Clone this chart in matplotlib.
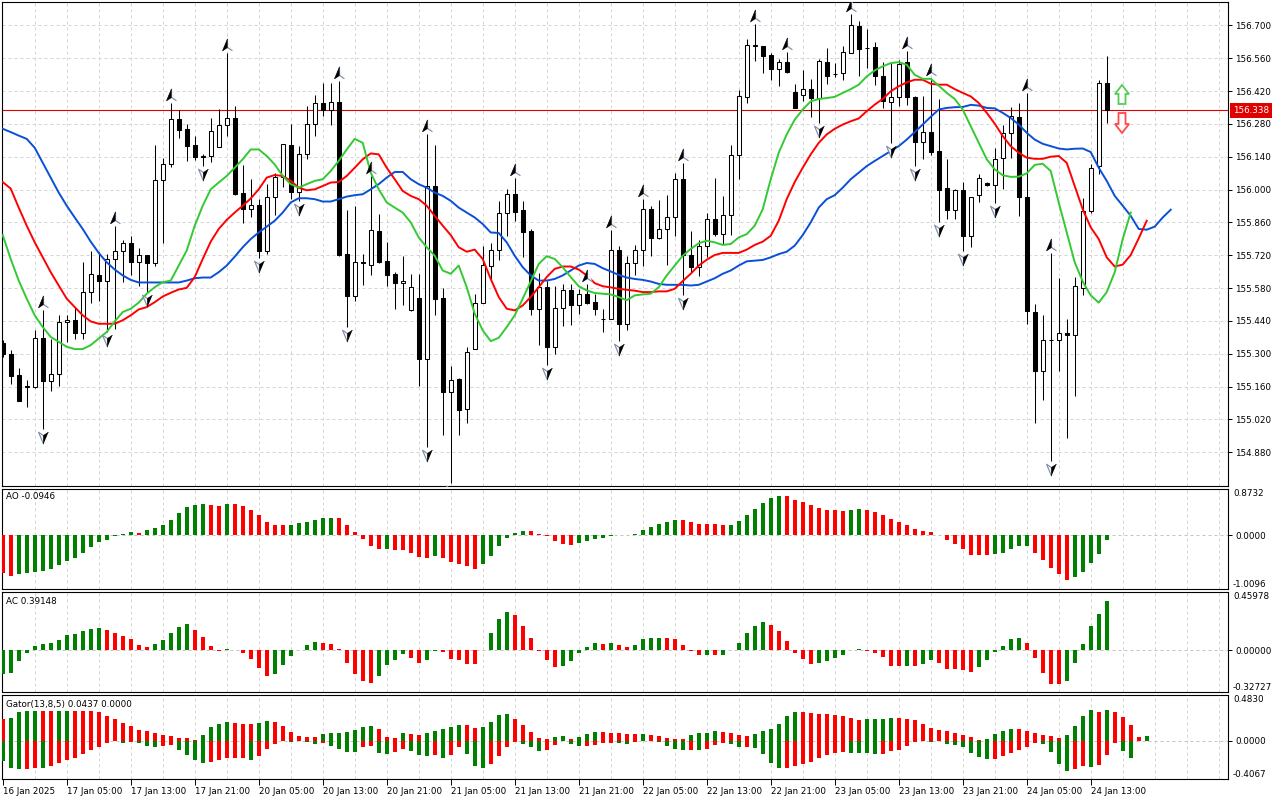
import numpy as np
import matplotlib
matplotlib.use("Agg")
import matplotlib.pyplot as plt
from matplotlib.transforms import offset_copy, blended_transform_factory, IdentityTransform
from matplotlib.patches import Polygon

# ---- H1 candles, 16 Jan 2025 21:00 .. 24 Jan 15:00 ----
opens = [155.348, 155.297, 155.208, 155.163, 155.160, 155.368, 155.184, 155.215, 155.435, 155.445,
         155.389, 155.563, 155.636, 155.612, 155.704, 155.737, 155.771, 155.693, 155.720, 155.686,
         156.042, 156.107, 156.301, 156.256, 156.188, 156.143, 156.144, 156.182, 156.276, 156.305,
         155.984, 155.919, 155.936, 155.740, 155.970, 156.054, 156.191, 155.990, 156.153, 156.280,
         156.369, 156.338, 156.375, 155.724, 155.546, 155.690, 155.680, 155.823, 155.696, 155.641,
         155.602, 155.485, 155.537, 155.277, 156.015, 155.537, 155.136, 155.191, 155.065, 155.320,
         155.516, 155.676, 155.744, 155.899, 155.979, 155.914, 155.823, 155.489, 155.585, 155.328,
         155.495, 155.573, 155.506, 155.554, 155.520, 155.450, 155.447, 155.742, 155.426, 155.686,
         155.742, 155.919, 155.792, 155.832, 155.881, 156.047, 155.721, 155.672, 155.761, 155.874,
         155.810, 155.891, 156.148, 156.393, 156.612, 156.612, 156.574, 156.513, 156.543, 156.414,
         156.403, 156.428, 156.389, 156.544, 156.491, 156.496, 156.581, 156.697, 156.605, 156.607,
         156.485, 156.373, 156.394, 156.544, 156.394, 156.202, 156.246, 156.163, 156.006, 155.914,
         155.996, 155.803, 155.977, 156.030, 156.021, 156.134, 156.242, 156.310, 155.970, 155.478,
         155.226, 155.358, 155.358, 155.390, 155.379, 155.580, 155.908, 156.100, 156.454]
highs = [155.358, 155.318, 155.238, 155.188, 155.402, 155.485, 155.365, 155.467, 155.464, 155.499,
         155.690, 155.737, 155.733, 155.725, 155.846, 155.786, 155.800, 155.750, 155.720, 156.192,
         156.134, 156.369, 156.338, 156.280, 156.228, 156.153, 156.305, 156.344, 156.581, 156.358,
         156.106, 156.047, 155.959, 156.025, 156.072, 156.195, 156.281, 156.185, 156.355, 156.404,
         156.454, 156.454, 156.464, 155.914, 155.928, 155.725, 156.058, 155.895, 155.778, 155.648,
         155.716, 155.642, 155.639, 156.237, 156.189, 155.580, 155.247, 155.195, 155.330, 155.556,
         155.758, 155.772, 155.952, 156.001, 156.051, 155.952, 155.834, 155.645, 155.612, 155.591,
         155.597, 155.597, 155.577, 155.598, 155.556, 155.492, 155.829, 155.761, 155.716, 155.764,
         155.959, 155.931, 155.955, 155.976, 156.069, 156.114, 155.824, 155.786, 155.898, 156.048,
         155.973, 156.189, 156.426, 156.641, 156.706, 156.612, 156.581, 156.556, 156.588, 156.451,
         156.510, 156.471, 156.556, 156.602, 156.538, 156.612, 156.748, 156.718, 156.683, 156.628,
         156.542, 156.543, 156.553, 156.592, 156.397, 156.400, 156.475, 156.386, 156.129, 156.001,
         156.034, 155.970, 156.065, 156.033, 156.175, 156.277, 156.351, 156.369, 156.411, 155.513,
         155.467, 155.730, 155.624, 155.450, 155.626, 155.966, 156.107, 156.468, 156.570]
lows = [155.287, 155.171, 155.099, 155.073, 155.153, 154.979, 155.141, 155.163, 155.351, 155.365,
        155.361, 155.518, 155.527, 155.393, 155.407, 155.608, 155.634, 155.588, 155.563, 155.676,
        155.772, 156.097, 156.221, 156.121, 156.126, 156.100, 156.117, 156.182, 156.230, 155.976,
        155.857, 155.885, 155.707, 155.725, 155.891, 156.011, 155.959, 155.952, 156.129, 156.228,
        156.312, 156.277, 155.718, 155.414, 155.527, 155.594, 155.634, 155.686, 155.591, 155.492,
        155.509, 155.482, 155.163, 154.901, 155.464, 154.955, 154.750, 154.955, 155.004, 155.320,
        155.516, 155.612, 155.701, 155.803, 155.867, 155.711, 155.464, 155.337, 155.252, 155.301,
        155.418, 155.424, 155.471, 155.513, 155.467, 155.393, 155.447, 155.354, 155.403, 155.634,
        155.676, 155.716, 155.789, 155.680, 155.800, 155.549, 155.648, 155.631, 155.711, 155.800,
        155.768, 155.806, 156.044, 156.369, 156.549, 156.496, 156.468, 156.440, 156.496, 156.348,
        156.376, 156.310, 156.284, 156.451, 156.479, 156.468, 156.581, 156.482, 156.517, 156.445,
        156.348, 156.199, 156.358, 156.362, 156.100, 156.131, 156.146, 155.863, 155.874, 155.874,
        155.740, 155.754, 155.949, 156.015, 155.942, 156.001, 156.133, 155.888, 155.428, 155.007,
        155.103, 154.841, 155.226, 154.943, 155.122, 155.549, 155.902, 156.065, 156.284]
closes = [155.297, 155.205, 155.099, 155.160, 155.368, 155.184, 155.215, 155.435, 155.445, 155.389,
          155.563, 155.639, 155.612, 155.704, 155.737, 155.771, 155.693, 155.720, 155.686, 156.042,
          156.107, 156.301, 156.253, 156.185, 156.138, 156.140, 156.250, 156.276, 156.305, 155.980,
          155.919, 155.936, 155.740, 155.970, 156.054, 156.195, 155.990, 156.153, 156.280, 156.369,
          156.338, 156.375, 155.721, 155.546, 155.690, 155.687, 155.827, 155.690, 155.634, 155.602,
          155.612, 155.585, 155.277, 156.015, 155.535, 155.136, 155.188, 155.061, 155.308, 155.518,
          155.679, 155.744, 155.899, 155.979, 155.905, 155.820, 155.489, 155.583, 155.328, 155.495,
          155.574, 155.506, 155.554, 155.518, 155.489, 155.447, 155.742, 155.426, 155.686, 155.742,
          155.919, 155.792, 155.832, 155.881, 156.047, 155.721, 155.672, 155.761, 155.874, 155.810,
          155.891, 156.148, 156.397, 156.615, 156.615, 156.570, 156.513, 156.543, 156.503, 156.348,
          156.428, 156.389, 156.549, 156.486, 156.493, 156.585, 156.700, 156.601, 156.605, 156.482,
          156.376, 156.394, 156.534, 156.394, 156.202, 156.246, 156.160, 155.998, 155.914, 155.996,
          155.803, 155.970, 156.051, 156.021, 156.131, 156.242, 156.312, 155.970, 155.481, 155.226,
          155.358, 155.358, 155.390, 155.379, 155.588, 155.908, 156.093, 156.454, 156.338]

# Alligator lines as displayed (already shifted forward 8/5/3 bars)
jaw = [156.259, 156.245, 156.230, 156.216, 156.178, 156.114, 156.051, 155.987, 155.931, 155.881,
       155.832, 155.778, 155.730, 155.690, 155.659, 155.634, 155.615, 155.604, 155.604, 155.604,
       155.604, 155.604, 155.604, 155.612, 155.622, 155.625, 155.625, 155.648, 155.676, 155.714,
       155.754, 155.789, 155.817, 155.842, 155.867, 155.902, 155.945, 155.963, 155.963, 155.959,
       155.949, 155.949, 155.959, 155.970, 155.976, 155.980, 156.001, 156.023, 156.051, 156.075,
       156.075, 156.044, 156.023, 156.008, 155.987, 155.973, 155.952, 155.923, 155.902, 155.881,
       155.853, 155.817, 155.815, 155.775, 155.718, 155.669, 155.634, 155.612, 155.612, 155.619,
       155.634, 155.655, 155.676, 155.687, 155.683, 155.665, 155.651, 155.636, 155.625, 155.619,
       155.615, 155.608, 155.598, 155.594, 155.594, 155.594, 155.591, 155.594, 155.608, 155.622,
       155.641, 155.655, 155.676, 155.694, 155.697, 155.700, 155.711, 155.725, 155.735, 155.761,
       155.806, 155.860, 155.923, 155.959, 155.976, 156.008, 156.044, 156.072, 156.100, 156.122,
       156.143, 156.164, 156.185, 156.213, 156.245, 156.277, 156.310, 156.341, 156.348, 156.351,
       156.352, 156.361, 156.358, 156.348, 156.346, 156.327, 156.305, 156.277, 156.242, 156.213,
       156.195, 156.185, 156.175, 156.171, 156.174, 156.175, 156.160, 156.093, 156.037, 155.973,
       155.931, 155.888, 155.832, 155.829, 155.842, 155.881, 155.914]
teeth = [156.032, 156.004, 155.923, 155.846, 155.775, 155.711, 155.648, 155.591, 155.535, 155.499,
         155.464, 155.438, 155.428, 155.428, 155.428, 155.443, 155.464, 155.489, 155.499, 155.520,
         155.544, 155.560, 155.574, 155.581, 155.627, 155.704, 155.778, 155.832, 155.871, 155.902,
         155.931, 155.962, 156.001, 156.051, 156.062, 156.058, 156.037, 156.008, 155.997, 156.001,
         156.015, 156.030, 156.032, 156.058, 156.093, 156.129, 156.154, 156.150, 156.093, 156.044,
         155.994, 155.973, 155.959, 155.931, 155.888, 155.846, 155.806, 155.754, 155.735, 155.744,
         155.704, 155.619, 155.542, 155.492, 155.485, 155.506, 155.542, 155.584, 155.627, 155.662,
         155.672, 155.672, 155.659, 155.634, 155.601, 155.588, 155.583, 155.577, 155.573, 155.569,
         155.563, 155.563, 155.566, 155.566, 155.577, 155.610, 155.641, 155.676, 155.701, 155.721,
         155.730, 155.730, 155.730, 155.744, 155.764, 155.778, 155.803, 155.867, 155.959, 156.032,
         156.093, 156.150, 156.199, 156.235, 156.259, 156.277, 156.291, 156.303, 156.334, 156.362,
         156.386, 156.419, 156.440, 156.457, 156.468, 156.468, 156.451, 156.447, 156.447, 156.428,
         156.412, 156.397, 156.369, 156.327, 156.281, 156.228, 156.185, 156.157, 156.136, 156.131,
         156.131, 156.140, 156.143, 156.114, 156.015, 155.916, 155.839, 155.789, 155.711, 155.672,
         155.680, 155.721, 155.792, 155.867]
lips = [155.806, 155.704, 155.612, 155.535, 155.464, 155.414, 155.372, 155.351, 155.330, 155.320,
        155.320, 155.337, 155.365, 155.393, 155.438, 155.478, 155.492, 155.518, 155.556, 155.584,
        155.605, 155.612, 155.676, 155.740, 155.846, 155.931, 156.001, 156.030, 156.058, 156.093,
        156.129, 156.171, 156.171, 156.143, 156.107, 156.058, 156.023, 156.008, 156.023, 156.037,
        156.044, 156.079, 156.122, 156.171, 156.216, 156.199, 156.072, 156.001, 155.945, 155.923,
        155.902, 155.860, 155.796, 155.754, 155.718, 155.655, 155.641, 155.676, 155.584, 155.471,
        155.400, 155.354, 155.368, 155.414, 155.464, 155.535, 155.608, 155.683, 155.716, 155.704,
        155.669, 155.627, 155.588, 155.570, 155.559, 155.556, 155.553, 155.542, 155.528, 155.549,
        155.553, 155.556, 155.584, 155.634, 155.676, 155.718, 155.747, 155.771, 155.782, 155.775,
        155.764, 155.768, 155.796, 155.810, 155.846, 155.916, 156.044, 156.157, 156.235, 156.298,
        156.341, 156.376, 156.386, 156.390, 156.395, 156.412, 156.428, 156.447, 156.482, 156.508,
        156.525, 156.539, 156.543, 156.532, 156.489, 156.472, 156.472, 156.443, 156.412, 156.386,
        156.341, 156.270, 156.199, 156.129, 156.086, 156.061, 156.054, 156.055, 156.069, 156.105,
        156.110, 156.079, 155.945, 155.817, 155.690, 155.608, 155.549, 155.518, 155.563, 155.648,
        155.789, 155.902]

fractal_up = [5, 14, 21, 28, 42, 46, 53, 64, 73, 76, 80, 85, 94, 98, 106, 113, 116, 128, 131]
fractal_down = [5, 13, 18, 25, 32, 37, 43, 53, 56, 68, 77, 85, 102, 111, 114, 117, 120, 124, 131]

ao = [-0.704, -0.766, -0.735, -0.704, -0.692, -0.667, -0.642, -0.561, -0.480, -0.417,
      -0.324, -0.224, -0.131, -0.081, -0.019, 0.019, 0.056, 0.050, 0.093, 0.143,
      0.199, 0.293, 0.424, 0.530, 0.573, 0.592, 0.567, 0.561, 0.589, 0.586,
      0.555, 0.480, 0.386, 0.255, 0.193, 0.187, 0.199, 0.224, 0.255, 0.293,
      0.318, 0.336, 0.330, 0.199, 0.062, -0.069, -0.193, -0.255, -0.249, -0.274,
      -0.280, -0.324, -0.405, -0.430, -0.380, -0.417, -0.492, -0.530, -0.579, -0.636,
      -0.542, -0.393, -0.206, -0.056, 0.044, 0.081, 0.075, 0.019, -0.019, -0.106,
      -0.168, -0.174, -0.143, -0.106, -0.075, -0.050, -0.019, 0.006, 0.012, 0.031,
      0.106, 0.150, 0.206, 0.255, 0.293, 0.287, 0.249, 0.218, 0.215, 0.206,
      0.187, 0.199, 0.280, 0.386, 0.498, 0.611, 0.704, 0.741, 0.735, 0.665,
      0.623, 0.573, 0.517, 0.480, 0.477, 0.467, 0.480, 0.498, 0.486, 0.436,
      0.393, 0.312, 0.249, 0.193, 0.125, 0.081, 0.062, 0.003, -0.093, -0.168,
      -0.249, -0.361, -0.374, -0.377, -0.355, -0.324, -0.249, -0.206, -0.202, -0.324,
      -0.467, -0.623, -0.729, -0.841, -0.791, -0.685, -0.511, -0.343, -0.0946]

ac = [-0.189, -0.179, -0.087, -0.021, 0.037, 0.053, 0.060, 0.084, 0.123, 0.129,
      0.155, 0.171, 0.179, 0.158, 0.139, 0.116, 0.087, 0.045, 0.029, 0.053,
      0.084, 0.139, 0.187, 0.210, 0.163, 0.108, 0.037, -0.005, 0.013, 0.005,
      -0.021, -0.071, -0.142, -0.200, -0.184, -0.113, -0.047, 0.005, 0.042, 0.063,
      0.060, 0.053, 0.013, -0.097, -0.184, -0.244, -0.255, -0.205, -0.113, -0.074,
      -0.032, -0.058, -0.097, -0.079, -0.003, -0.013, -0.066, -0.079, -0.105, -0.108,
      0.005, 0.139, 0.250, 0.305, 0.281, 0.192, 0.100, -0.005, -0.079, -0.131,
      -0.123, -0.087, -0.021, 0.029, 0.060, 0.053, 0.060, 0.045, 0.026, 0.045,
      0.087, 0.095, 0.100, 0.099, 0.087, 0.045, -0.005, -0.039, -0.034, -0.039,
      -0.037, 0.000, 0.060, 0.139, 0.189, 0.221, 0.202, 0.150, 0.071, -0.021,
      -0.071, -0.105, -0.100, -0.087, -0.058, -0.039, 0.000, 0.013, -0.005, -0.021,
      -0.053, -0.121, -0.126, -0.121, -0.123, -0.110, -0.079, -0.100, -0.145, -0.150,
      -0.158, -0.173, -0.131, -0.079, -0.013, 0.034, 0.092, 0.095, 0.058, -0.063,
      -0.179, -0.263, -0.264, -0.244, -0.097, 0.053, 0.194, 0.289, 0.39148]

gator_up = [0.227, 0.241, 0.307, 0.370, 0.403, 0.398, 0.392, 0.396, 0.399, 0.382,
            0.368, 0.340, 0.302, 0.262, 0.231, 0.191, 0.151, 0.115, 0.105, 0.084,
            0.060, 0.044, 0.030, 0.028, 0.011, 0.060, 0.140, 0.175, 0.195, 0.188,
            0.177, 0.173, 0.184, 0.209, 0.195, 0.156, 0.092, 0.045, 0.034, 0.033,
            0.066, 0.081, 0.085, 0.095, 0.117, 0.149, 0.153, 0.127, 0.042, 0.031,
            0.081, 0.071, 0.064, 0.077, 0.099, 0.127, 0.146, 0.169, 0.167, 0.137,
            0.149, 0.198, 0.273, 0.283, 0.233, 0.163, 0.092, 0.028, 0.015, 0.036,
            0.046, 0.021, 0.036, 0.068, 0.089, 0.087, 0.084, 0.078, 0.070, 0.066,
            0.075, 0.057, 0.046, 0.032, 0.021, 0.019, 0.057, 0.078, 0.084, 0.100,
            0.089, 0.078, 0.057, 0.046, 0.071, 0.100, 0.120, 0.180, 0.260, 0.305,
            0.300, 0.295, 0.286, 0.283, 0.270, 0.259, 0.236, 0.222, 0.224, 0.227,
            0.229, 0.241, 0.239, 0.234, 0.214, 0.181, 0.135, 0.108, 0.099, 0.077,
            0.060, 0.036, 0.011, 0.021, 0.065, 0.099, 0.120, 0.118, 0.106, 0.082,
            0.064, 0.045, 0.032, 0.057, 0.159, 0.259, 0.321, 0.304, 0.326, 0.301,
            0.251, 0.167, 0.040, 0.0437]
gator_down = [0.215, 0.290, 0.300, 0.298, 0.290, 0.292, 0.268, 0.236, 0.204, 0.182,
              0.147, 0.104, 0.067, 0.030, 0.008, 0.030, 0.018, 0.027, 0.054, 0.066,
              0.061, 0.051, 0.095, 0.150, 0.209, 0.238, 0.227, 0.204, 0.186, 0.182,
              0.180, 0.209, 0.167, 0.085, 0.035, 0.004, 0.014, 0.002, 0.020, 0.036,
              0.027, 0.053, 0.088, 0.117, 0.122, 0.064, 0.062, 0.135, 0.140, 0.118,
              0.089, 0.113, 0.152, 0.165, 0.156, 0.182, 0.157, 0.073, 0.142, 0.265,
              0.293, 0.252, 0.162, 0.068, 0.014, 0.033, 0.072, 0.105, 0.095, 0.044,
              0.004, 0.035, 0.058, 0.053, 0.043, 0.028, 0.022, 0.025, 0.040, 0.012,
              0.006, 0.007, 0.016, 0.062, 0.088, 0.098, 0.097, 0.099, 0.085, 0.050,
              0.030, 0.031, 0.067, 0.066, 0.080, 0.140, 0.236, 0.292, 0.285, 0.268,
              0.243, 0.223, 0.186, 0.157, 0.134, 0.125, 0.129, 0.133, 0.135, 0.139,
              0.137, 0.114, 0.096, 0.060, 0.014, 0.009, 0.014, 0.004, 0.035, 0.042,
              0.071, 0.127, 0.170, 0.198, 0.195, 0.167, 0.131, 0.102, 0.067, 0.026,
              0.040, 0.120, 0.250, 0.320, 0.300, 0.270, 0.280, 0.260, 0.148, 0.024,
              0.109, 0.181]

time_labels = ["16 Jan 2025", "17 Jan 05:00", "17 Jan 13:00", "17 Jan 21:00", "20 Jan 05:00",
               "20 Jan 13:00", "20 Jan 21:00", "21 Jan 05:00", "21 Jan 13:00", "21 Jan 21:00",
               "22 Jan 05:00", "22 Jan 13:00", "22 Jan 21:00", "23 Jan 05:00", "23 Jan 13:00",
               "23 Jan 21:00", "24 Jan 05:00", "24 Jan 13:00"]
price_ticks = [156.700, 156.560, 156.420, 156.280, 156.140, 156.000, 155.860,
               155.720, 155.580, 155.440, 155.300, 155.160, 155.020, 154.880]
bid = 156.338

GREEN = "#008000"
RED = "#ff0000"
GRID = "#d4d4d4"
FS = 6.3

plt.rcParams["font.family"] = ["DejaVu Sans"]
plt.rcParams["font.size"] = FS

W, H = 1280, 800
fig = plt.figure(figsize=(12.8, 8), dpi=100, facecolor="white")


def px_rect(x0, y0, x1, y1):
    return [x0 / W, 1 - y1 / H, (x1 - x0) / W, (y1 - y0) / H]


ax = fig.add_axes(px_rect(2, 2, 1228, 486))
ax_ao = fig.add_axes(px_rect(2, 489, 1228, 589))
ax_ac = fig.add_axes(px_rect(2, 592, 1228, 692))
ax_gt = fig.add_axes(px_rect(2, 695, 1228, 779))
panels = [ax, ax_ao, ax_ac, ax_gt]

for a in panels:
    a.set_xlim(-0.09, 153.16)
    a.set_facecolor("white")
    for s in a.spines.values():
        s.set_linewidth(0.8)
        s.set_color("black")
    a.tick_params(axis="x", bottom=False, labelbottom=False)
    for g in range(4, 153, 4):
        a.axvline(g, color=GRID, lw=0.72, ls=(0, (3, 3)), zorder=0)


def updown(vals, first):
    cols = [first]
    for prev, cur in zip(vals[:-1], vals[1:]):
        if cur > prev:
            cols.append(GREEN)
        elif cur < prev:
            cols.append(RED)
        else:
            cols.append(cols[-1])
    return cols


# ---- main price panel ----
o = np.array(opens)
h = np.array(highs)
l = np.array(lows)
c = np.array(closes)
x = np.arange(len(o))

ax.set_ylim(154.7365, 156.7994)
for p in price_ticks:
    ax.axhline(p, color=GRID, lw=0.72, ls=(0, (3, 3)), zorder=0)
ax.axhline(bid, color="#e00000", lw=0.8, zorder=1.5)

bull = c >= o
ax.vlines(x, l, h, color="black", lw=0.75, zorder=3)
ax.bar(x, np.maximum(np.abs(c - o), 0.0004), bottom=np.minimum(o, c), width=0.55,
       color=np.where(bull, "white", "black"), edgecolor="black", linewidth=0.75, zorder=4)

ax.plot(np.arange(len(jaw)), jaw, color="#0a4fd8", lw=1.4, zorder=5)
ax.plot(np.arange(len(teeth)), teeth, color="#ff0000", lw=1.4, zorder=5)
ax.plot(np.arange(len(lips)), lips, color="#33c933", lw=1.4, zorder=5)

# fractal arrows: half dark, half light
UP_L = [(0, 1), (-0.75, -0.8), (0, -0.3)]
UP_R = [(0, 1), (0, -0.3), (0.75, -0.8)]
DN_L = [(0, -1), (-0.75, 0.8), (0, 0.3)]
DN_R = [(0, -1), (0, 0.3), (0.75, 0.8)]
tr_up = offset_copy(ax.transData, fig=fig, x=0, y=8, units="dots")
tr_dn = offset_copy(ax.transData, fig=fig, x=0, y=-8, units="dots")
fu = np.array(fractal_up)
fd = np.array(fractal_down)
ax.scatter(fu, h[fu], marker=UP_R, s=90, facecolors="#f4f6fa", edgecolors="#7c8ca4",
           linewidths=0.8, transform=tr_up, zorder=7)
ax.scatter(fu, h[fu], marker=UP_L, s=90, facecolors="black", edgecolors="black",
           linewidths=0.5, transform=tr_up, zorder=7)
ax.scatter(fd, l[fd], marker=DN_L, s=90, facecolors="#f4f6fa", edgecolors="#7c8ca4",
           linewidths=0.8, transform=tr_dn, zorder=7)
ax.scatter(fd, l[fd], marker=DN_R, s=90, facecolors="black", edgecolors="black",
           linewidths=0.5, transform=tr_dn, zorder=7)

ax.yaxis.tick_right()
ax.set_yticks(price_ticks)
ax.set_yticklabels([f"{p:.3f}" for p in price_ticks])
ax.tick_params(axis="y", direction="out", length=3, width=0.7, pad=2, labelsize=FS)

tr_side = blended_transform_factory(ax.transAxes, ax.transData)
ax.text(1.0, bid, f"{bid:.3f}", transform=offset_copy(tr_side, fig=fig, x=5, units="dots"),
        color="white", fontsize=FS, va="center", ha="left", clip_on=False, zorder=10,
        bbox=dict(boxstyle="square,pad=0.35", fc="#e00000", ec="none"))

# buy / sell hollow arrows near the last bar
up_arrow = [(1122, 85), (1129, 94), (1125.5, 94), (1125.5, 104), (1118.5, 104), (1118.5, 94), (1115, 94)]
dn_arrow = [(1122, 133), (1129, 124), (1125.5, 124), (1125.5, 113), (1118.5, 113), (1118.5, 124), (1115, 124)]
fig.add_artist(Polygon([(px, H - py) for px, py in up_arrow], closed=True, transform=IdentityTransform(),
                       fc="white", ec="#55cc55", lw=1.3, zorder=8))
fig.add_artist(Polygon([(px, H - py) for px, py in dn_arrow], closed=True, transform=IdentityTransform(),
                       fc="white", ec="#ff4a4a", lw=1.3, zorder=8))


# ---- indicator panels ----
def side_scale(a, lo, hi, fmt):
    a.set_ylim(lo, hi)
    a.yaxis.tick_right()
    a.set_yticks([0.0])
    a.set_yticklabels([fmt % 0.0])
    a.tick_params(axis="y", direction="out", length=3, width=0.7, pad=2, labelsize=FS)
    tr = offset_copy(blended_transform_factory(a.transAxes, a.transData), fig=fig, x=5, units="dots")
    a.text(1.0, hi, fmt % hi, transform=tr, va="top", ha="left", fontsize=FS, clip_on=False)
    a.text(1.0, lo, fmt % lo, transform=tr, va="bottom", ha="left", fontsize=FS, clip_on=False)
    a.axhline(0, color="#c4c4c4", lw=0.72, ls=(0, (3, 3)), zorder=1)


def panel_label(a, txt, dy, box=False):
    kw = dict(bbox=dict(fc="white", ec="none", pad=1.2)) if box else {}
    a.text(0, 1, txt, transform=offset_copy(a.transAxes, fig=fig, x=4, y=-dy, units="dots"),
           va="center", ha="left", fontsize=FS, zorder=10, **kw)


ax_ao.bar(np.arange(len(ao)), ao, width=0.5, color=updown(ao, RED), zorder=3)
side_scale(ax_ao, -1.0096, 0.8732, "%.4f")
panel_label(ax_ao, "AO -0.0946", 8)

ax_ac.bar(np.arange(len(ac)), ac, width=0.5, color=updown(ac, GREEN), zorder=3)
side_scale(ax_ac, -0.32727, 0.45978, "%.5f")
panel_label(ax_ac, "AC 0.39148", 9)

ax_gt.bar(np.arange(len(gator_up)), gator_up, width=0.5, color=updown(gator_up, RED), zorder=3)
ax_gt.bar(np.arange(len(gator_down)), -np.array(gator_down), width=0.5,
          color=updown(gator_down, GREEN), zorder=3)
side_scale(ax_gt, -0.4067, 0.4830, "%.4f")
panel_label(ax_gt, "Gator(13,8,5) 0.0437 0.0000", 9.5, box=True)

ax_gt.set_xticks(range(0, 8 * len(time_labels), 8))
ax_gt.set_xticklabels(time_labels, ha="left")
ax_gt.tick_params(axis="x", bottom=True, labelbottom=True, direction="out", length=4,
                  width=0.7, pad=1.5, labelsize=FS)

fig.savefig("out.png", dpi=100, facecolor="white")
